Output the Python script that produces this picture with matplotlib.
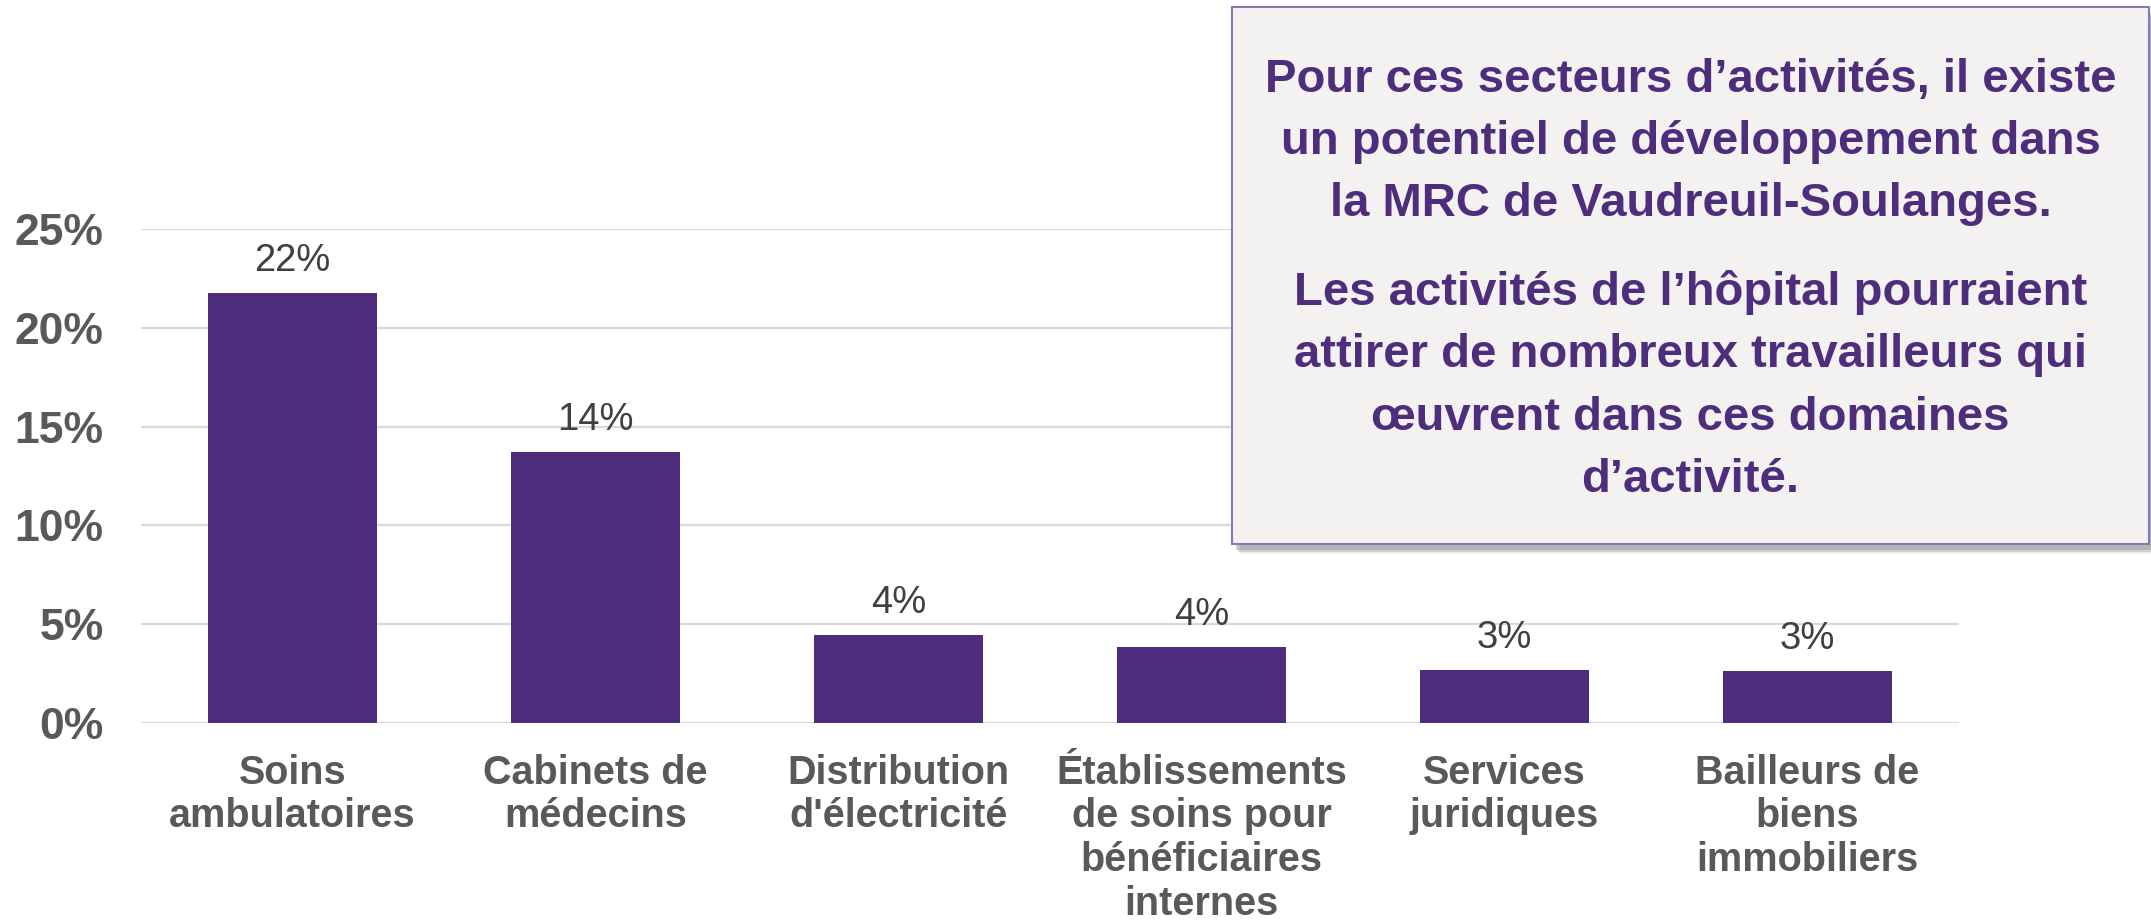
import matplotlib
matplotlib.use("Agg")
import matplotlib.pyplot as plt
from matplotlib.patches import Rectangle
from matplotlib.ticker import FuncFormatter

plt.rcParams['font.family'] = ['Liberation Sans', 'DejaVu Sans']

categories = ["Soins\nambulatoires", "Cabinets de\nmédecins", "Distribution\nd'électricité",
              "Établissements\nde soins pour\nbénéficiaires\ninternes", "Services\njuridiques",
              "Bailleurs de\nbiens\nimmobiliers"]
values = [21.75, 13.7, 4.46, 3.85, 2.68, 2.63]
value_labels = ["22%", "14%", "4%", "4%", "3%", "3%"]
yticks = [0, 5, 10, 15, 20, 25]

box_text = ("Pour ces secteurs d’activités, il existe\n"
            "un potentiel de développement dans\n"
            "la MRC de Vaudreuil-Soulanges.")
box_text2 = ("Les activités de l’hôpital pourraient\n"
             "attirer de nombreux travailleurs qui\n"
             "œuvrent dans ces domaines\n"
             "d’activité.")

W, H = 2151, 924
fig = plt.figure(figsize=(W / 100, H / 100), dpi=100)
ax = fig.add_axes([141 / W, 1 - 723 / H, (1959 - 141) / W, (723 - 229) / H])

bar_color = "#4E2D7D"
x = range(len(categories))
ax.bar(x, values, width=0.555, color=bar_color, zorder=3)
for xi, v, lab in zip(x, values, value_labels):
    ax.annotate(lab, (xi, v), xytext=(0, 10), textcoords="offset points",
                ha="center", va="bottom", fontsize=27.5, color="#404040")

ax.set_xlim(-0.5, len(categories) - 0.5)
ax.set_ylim(0, 25)
ax.set_yticks(yticks)
ax.yaxis.set_major_formatter(FuncFormatter(lambda v, p: f"{int(v)}%"))
ax.grid(axis="y", color="#D9D9D9", linewidth=1.6, zorder=0)
ax.set_axisbelow(True)
for s in ax.spines.values():
    s.set_visible(False)
ax.tick_params(axis="both", length=0)
ax.tick_params(axis="y", labelsize=32, labelcolor="#595959", pad=27)
ax.tick_params(axis="x", labelsize=28.5, labelcolor="#595959", pad=22)
ax.set_xticks(list(x))
ax.set_xticklabels(categories, fontweight="bold", linespacing=1.19)
for t in ax.get_yticklabels():
    t.set_fontweight("bold")

# text box with shadow
bx0, by0, bx1, by1 = 1232, 7, 2149, 544
for off, a in [(10, 0.15), (8, 0.25), (6, 0.35)]:
    shadow = Rectangle(((bx0 + off - 2) / W, 1 - (by1 + off) / H), (bx1 - bx0) / W, (by1 - by0) / H,
                       transform=fig.transFigure, facecolor="#808080", edgecolor="none",
                       alpha=a, zorder=5)
    fig.patches.append(shadow)
box = Rectangle((bx0 / W, 1 - by1 / H), (bx1 - bx0) / W, (by1 - by0) / H,
                transform=fig.transFigure, facecolor="#F3F2F1", edgecolor="#8E76B5",
                linewidth=1.5, zorder=6)
fig.patches.append(box)
cx = (bx0 + bx1) / 2 / W
fig.text(cx, 1 - 142 / H, box_text, ha="center", va="center", fontsize=34, fontweight="bold",
         color="#4E2D7D", linespacing=1.53, zorder=7)
fig.text(cx, 1 - 386 / H, box_text2, ha="center", va="center", fontsize=34, fontweight="bold",
         color="#4E2D7D", linespacing=1.53, zorder=7)

fig.savefig("out.png", dpi=100)
